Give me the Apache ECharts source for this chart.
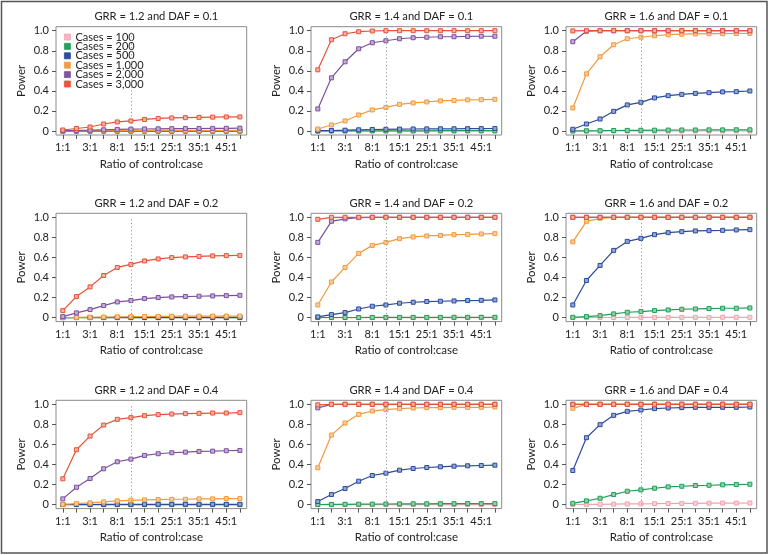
<!DOCTYPE html>
<html>
<head>
<meta charset="utf-8">
<script src="https://cdn.jsdelivr.net/npm/echarts@6/dist/echarts.min.js"></script>
<style>
html,body{margin:0;padding:0;background:#fff;}
#chart{width:773px;height:555px;}
</style>
</head>
<body>
<div id="chart"></div>
<script>
// x categories (ratio of control:case)
const categories = ['1:1','2:1','3:1','5:1','8:1','10:1','15:1','20:1','25:1','30:1','35:1','40:1','45:1','50:1'];
const caseNames = ['Cases = 100','Cases = 200','Cases = 500','Cases = 1,000','Cases = 2,000','Cases = 3,000'];
const yTicks = [0, 0.2, 0.4, 0.6, 0.8, 1.0];
const panelTitles = [
  'GRR = 1.2 and DAF = 0.1','GRR = 1.4 and DAF = 0.1','GRR = 1.6 and DAF = 0.1',
  'GRR = 1.2 and DAF = 0.2','GRR = 1.4 and DAF = 0.2','GRR = 1.6 and DAF = 0.2',
  'GRR = 1.2 and DAF = 0.4','GRR = 1.4 and DAF = 0.4','GRR = 1.6 and DAF = 0.4'
];
// Each panel: rows = cases 100, 200, 500, 1000, 2000, 3000
const grr12_daf01 = [
  [0,0,0,0,0,0,0,0,0,0,0,0,0,0],
  [0,0,0,0,0,0,0,0,0,0,0,0,0,0],
  [0,0,0,0.001,0.001,0.001,0.001,0.001,0.001,0.001,0.001,0.001,0.001,0.001],
  [0.001,0.002,0.003,0.004,0.004,0.005,0.005,0.006,0.006,0.006,0.007,0.007,0.007,0.007],
  [0.003,0.005,0.008,0.012,0.016,0.018,0.02,0.022,0.023,0.024,0.025,0.026,0.027,0.028],
  [0.01,0.025,0.04,0.07,0.09,0.1,0.115,0.125,0.13,0.133,0.136,0.138,0.14,0.14]
];
const grr14_daf01 = [
  [0,0,0,0,0,0,0,0,0,0,0,0,0,0],
  [0.001,0.001,0.001,0.001,0.002,0.002,0.002,0.002,0.002,0.003,0.003,0.003,0.003,0.003],
  [0.003,0.005,0.008,0.012,0.015,0.017,0.019,0.02,0.021,0.022,0.022,0.023,0.024,0.025],
  [0.02,0.06,0.1,0.16,0.21,0.235,0.266,0.28,0.29,0.3,0.305,0.31,0.312,0.316],
  [0.22,0.53,0.69,0.82,0.88,0.9,0.92,0.93,0.935,0.94,0.94,0.943,0.945,0.945],
  [0.61,0.91,0.97,0.99,0.997,1,1,1,1,1,1,1,1,1]
];
const grr16_daf01 = [
  [0,0,0,0,0,0,0,0,0,0,0,0,0,0],
  [0.001,0.002,0.003,0.005,0.006,0.007,0.008,0.009,0.01,0.01,0.011,0.011,0.012,0.012],
  [0.017,0.07,0.12,0.196,0.26,0.286,0.33,0.352,0.365,0.375,0.382,0.39,0.392,0.399],
  [0.23,0.57,0.74,0.86,0.92,0.935,0.95,0.96,0.965,0.968,0.97,0.97,0.972,0.973],
  [0.89,0.995,1,1,1,1,1,1,1,1,1,1,1,1],
  [0.998,1,1,1,1,1,1,1,1,1,1,1,1,1]
];
const grr12_daf02 = [
  [0,0,0,0,0,0,0,0,0,0,0,0,0,0],
  [0,0,0,0,0,0,0,0,0,0,0,0,0,0],
  [0,0.001,0.001,0.001,0.002,0.002,0.002,0.002,0.003,0.003,0.003,0.003,0.003,0.003],
  [0.001,0.002,0.004,0.006,0.008,0.009,0.011,0.012,0.013,0.014,0.014,0.015,0.015,0.016],
  [0.01,0.047,0.08,0.12,0.156,0.17,0.19,0.2,0.206,0.21,0.213,0.216,0.219,0.222],
  [0.07,0.21,0.306,0.42,0.5,0.53,0.565,0.585,0.598,0.605,0.61,0.615,0.618,0.62]
];
const grr14_daf02 = [
  [0,0,0,0,0,0,0,0,0,0,0,0,0,0],
  [0.001,0.001,0.001,0.001,0.002,0.002,0.002,0.002,0.002,0.002,0.003,0.003,0.003,0.003],
  [0.007,0.03,0.05,0.086,0.113,0.126,0.143,0.153,0.16,0.163,0.166,0.17,0.172,0.176],
  [0.126,0.355,0.5,0.64,0.72,0.75,0.787,0.804,0.814,0.82,0.827,0.83,0.834,0.837],
  [0.75,0.96,0.985,0.997,1,1,1,1,1,1,1,1,1,1],
  [0.98,1,1,1,1,1,1,1,1,1,1,1,1,1]
];
const grr16_daf02 = [
  [0.001,0.001,0.001,0.001,0.002,0.002,0.002,0.002,0.002,0.002,0.002,0.003,0.003,0.003],
  [0.003,0.01,0.02,0.037,0.053,0.06,0.07,0.076,0.083,0.086,0.09,0.093,0.093,0.096],
  [0.126,0.37,0.52,0.67,0.76,0.79,0.827,0.847,0.857,0.864,0.867,0.87,0.874,0.877],
  [0.755,0.96,0.99,1,1,1,1,1,1,1,1,1,1,1],
  [1,1,1,1,1,1,1,1,1,1,1,1,1,1],
  [1,1,1,1,1,1,1,1,1,1,1,1,1,1]
];
const grr12_daf04 = [
  [0,0,0,0,0,0,0,0,0,0,0,0,0,0],
  [0,0,0,0,0,0,0,0,0,0,0,0,0,0],
  [0.001,0.001,0.001,0.002,0.002,0.002,0.002,0.003,0.003,0.003,0.003,0.003,0.003,0.003],
  [0.003,0.01,0.017,0.027,0.037,0.043,0.047,0.05,0.053,0.053,0.057,0.057,0.06,0.06],
  [0.057,0.173,0.26,0.357,0.427,0.453,0.49,0.507,0.517,0.523,0.53,0.533,0.537,0.54],
  [0.257,0.547,0.683,0.793,0.85,0.867,0.887,0.897,0.903,0.907,0.91,0.913,0.913,0.917]
];
const grr14_daf04 = [
  [0,0,0,0,0,0,0,0,0,0,0,0,0,0],
  [0.001,0.002,0.003,0.004,0.005,0.006,0.007,0.008,0.008,0.009,0.009,0.01,0.01,0.01],
  [0.03,0.1,0.16,0.233,0.29,0.313,0.343,0.36,0.37,0.377,0.383,0.387,0.39,0.393],
  [0.367,0.693,0.813,0.9,0.933,0.947,0.957,0.963,0.967,0.967,0.97,0.97,0.97,0.973],
  [0.965,1,1,1,1,1,1,1,1,1,1,1,1,1],
  [0.995,1,1,1,1,1,1,1,1,1,1,1,1,1]
];
const grr16_daf04 = [
  [0.001,0.002,0.003,0.005,0.007,0.008,0.009,0.011,0.012,0.013,0.014,0.015,0.015,0.016],
  [0.013,0.037,0.063,0.1,0.133,0.147,0.163,0.177,0.183,0.19,0.193,0.197,0.2,0.203],
  [0.34,0.667,0.797,0.89,0.93,0.943,0.957,0.963,0.967,0.97,0.97,0.97,0.97,0.973],
  [0.96,1,1,1,1,1,1,1,1,1,1,1,1,1],
  [1,1,1,1,1,1,1,1,1,1,1,1,1,1],
  [1,1,1,1,1,1,1,1,1,1,1,1,1,1]
];
const panels = [grr12_daf01, grr14_daf01, grr16_daf01, grr12_daf02, grr14_daf02, grr16_daf02, grr12_daf04, grr14_daf04, grr16_daf04];
const refIndex = 5; // dotted reference line at 10:1

const lineColors = ['#F2A3AE','#1E9E57','#2A4A9C','#F29A3D','#7C509F','#E8523A'];
const fillColors = ['#F8D3D8','#8ED2A8','#93A6D8','#F9CC9D','#C4ACD8','#F5B2A3'];
const legendFill = ['#F4B6BE','#22A35C','#2D4FA3','#F39B45','#7E55A3','#E9583E'];

const FONT = 'Lato';
const colLeft = [56, 311, 566];
const rowTop = [26.7, 213.3, 400.3];
const W = 190.7, H = 108.3;

const grids = [], xAxes = [], yAxes = [], titles = [], series = [];
panels.forEach((pdata, p) => {
  const c = p % 3, r = Math.floor(p / 3);
  grids.push({left: colLeft[c], top: rowTop[r], width: W, height: H, show: true,
    borderColor: '#8a8a8a', borderWidth: 1, backgroundColor: 'transparent'});
  titles.push({text: panelTitles[p], left: colLeft[c] + W / 2, top: rowTop[r] - 20.5, textAlign: 'center',
    textStyle: {fontFamily: FONT, fontSize: 11.2, fontWeight: 'normal', color: '#222'}});
  xAxes.push({type: 'category', gridIndex: p, data: categories, boundaryGap: true,
    axisLine: {show: false, onZero: false},
    axisTick: {show: true, alignWithLabel: true, interval: 0, length: 4, lineStyle: {color: '#555'}},
    axisLabel: {interval: 1, margin: 7, fontFamily: FONT, fontSize: 11, color: '#222'},
    splitLine: {show: false},
    name: 'Ratio of control:case', nameLocation: 'middle', nameGap: 23,
    nameTextStyle: {fontFamily: FONT, fontSize: 11.5, color: '#222'}});
  yAxes.push({type: 'value', gridIndex: p, min: -0.04, max: 1.04,
    axisLine: {show: false},
    axisTick: {show: true, length: 4, customValues: yTicks, lineStyle: {color: '#555'}},
    axisLabel: {customValues: yTicks, margin: 7, fontFamily: FONT, fontSize: 11, color: '#222',
      formatter: v => (Math.abs(v) < 1e-9 ? '0' : v.toFixed(1))},
    splitLine: {show: false},
    name: 'Power', nameLocation: 'middle', nameGap: 29,
    nameTextStyle: {fontFamily: FONT, fontSize: 11.5, color: '#222'}});
  pdata.forEach((vals, i) => {
    const s = {
      type: 'line', name: caseNames[i], xAxisIndex: p, yAxisIndex: p, data: vals,
      symbol: 'rect', symbolSize: 4, showSymbol: true,
      lineStyle: {color: lineColors[i], width: 1.2},
      itemStyle: {color: fillColors[i], borderColor: lineColors[i], borderWidth: 1},
      emphasis: {disabled: true}, animation: false
    };
    if (i === 0) {
      s.markLine = {symbol: ['none','none'], silent: true, animation: false, label: {show: false},
        lineStyle: {color: '#999', type: [1.2, 2.4], width: 1},
        data: [[{coord: [refIndex, 0]}, {coord: [refIndex, 1]}]]};
    }
    series.push(s);
  });
});

const chart = echarts.init(document.getElementById('chart'), null, {renderer: 'canvas'});
chart.setOption({
  animation: false,
  backgroundColor: '#fff',
  title: titles,
  grid: grids,
  xAxis: xAxes,
  yAxis: yAxes,
  legend: {
    orient: 'vertical', left: 62, top: 29.5, icon: 'rect', itemWidth: 6, itemHeight: 6, itemGap: -1.6,
    backgroundColor: '#fff', padding: [2, 4, 2, 2], selectedMode: false,
    textStyle: {fontFamily: FONT, fontSize: 11, color: '#222'},
    data: caseNames.map((n, i) => ({name: n, itemStyle: {color: legendFill[i], borderColor: lineColors[i], borderWidth: 0.8}}))
  },
  graphic: [{type: 'rect', shape: {x: 1.5, y: 1.5, width: 765.5, height: 551.5},
    style: {fill: 'none', stroke: '#555', lineWidth: 1.5}, silent: true}],
  series: series
});
</script>
</body>
</html>
